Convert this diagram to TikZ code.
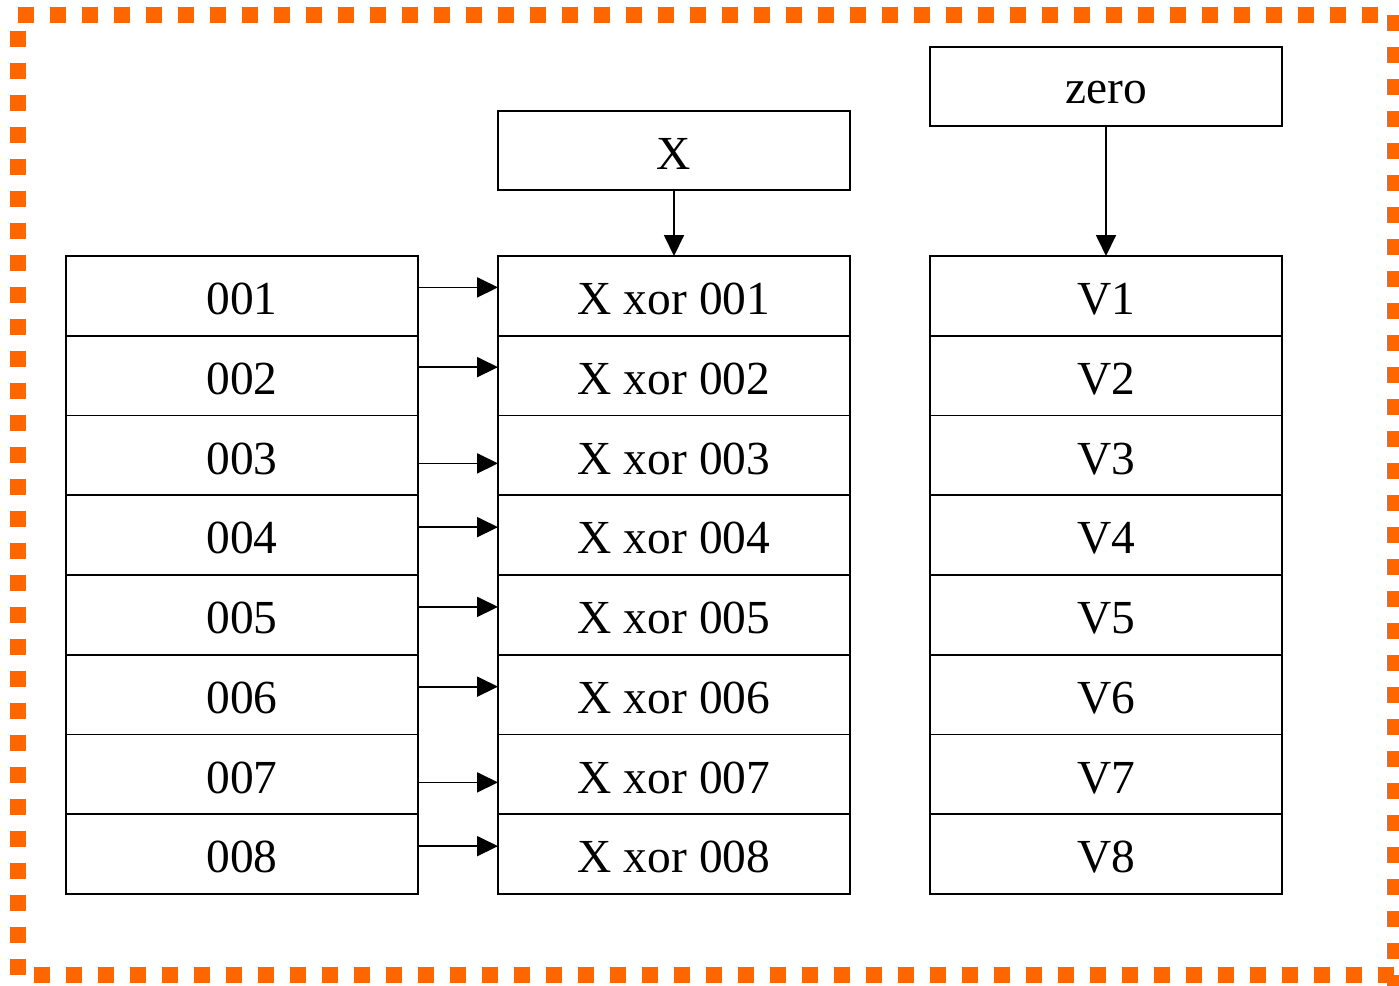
\documentclass[tikz,border=0pt]{standalone}
\usepackage{fontspec}
\setmainfont{Liberation Serif}
\usetikzlibrary{arrows.meta}
\definecolor{frameorange}{RGB}{255,102,0}
\tikzset{
  cell/.style={draw=black, line width=1.1pt, minimum width=7.04cm, minimum height=1.595cm,
    inner sep=0pt, outer sep=0pt, font=\fontsize{27}{31}\selectfont,
    text height=21.4pt, text depth=0pt},
  arr/.style={draw=black, line width=1pt, -{Triangle[length=0.42cm, width=0.4cm]}},
  frame/.style={draw=frameorange, line width=0.32cm, dash pattern=on 0.32cm off 0.32cm}
}
\begin{document}
\begin{tikzpicture}[x=0.02cm, y=-0.02cm]
\useasboundingbox (0,0) rectangle (1399,985);

% dotted orange frame
\draw[frame] (18,15) -- (1386,15);
\draw[frame] (1395,15) -- (1395,1000);
\draw[frame] (34,975) -- (1399,975);
\draw[frame] (18,31) -- (18,975);

% top boxes
\node[cell, minimum height=1.58cm] (X) at (674,150.5) {X};
\node[cell, minimum height=1.58cm, text height=19pt] (zero) at (1106,86.5) {zero};

% three columns of cells
\foreach \i in {1,...,8} {
  \pgfmathsetmacro{\yc}{256+79.75*(\i-0.5)}
  \node[cell] (l\i) at (242,\yc) {00\i};
  \node[cell] (m\i) at (674,\yc) {X xor 00\i};
  \node[cell] (v\i) at (1106,\yc) {V\i};
}

% feeds into the middle and right columns
\draw[arr] (X.south) -- (m1.north);
\draw[arr] (zero.south) -- (v1.north);

% row connectors
\foreach \i/\s in {1/0.17,2/0.17,3/-0.16,4/0.16,5/0.16,6/0.16,7/-0.16,8/0.16} {
  \draw[arr] ([yshift=\s cm]l\i.east) -- ([yshift=\s cm]m\i.west);
}
\end{tikzpicture}
\end{document}
